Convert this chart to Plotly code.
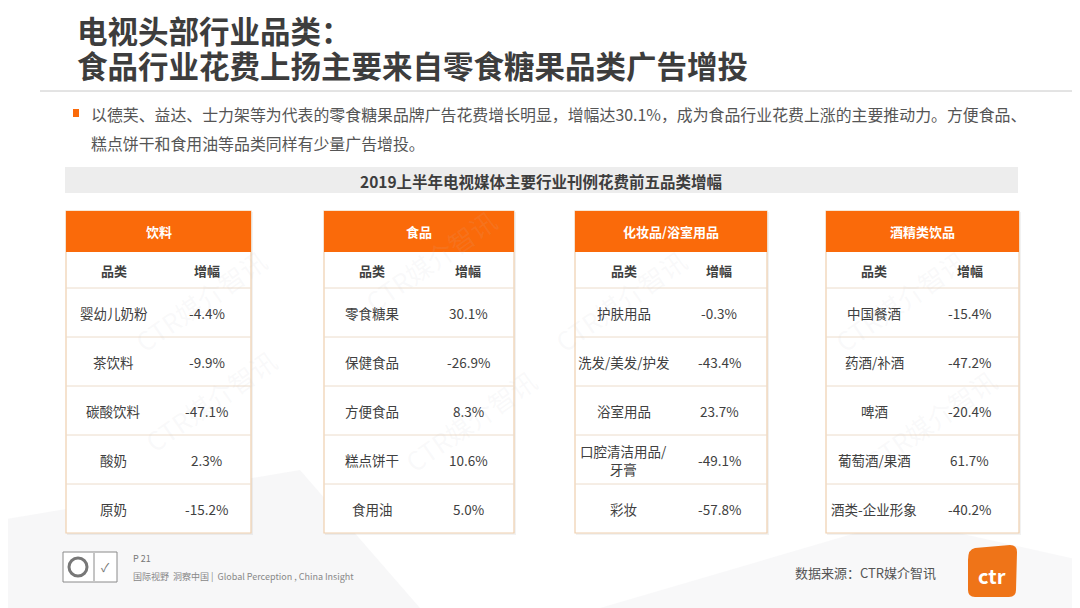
import plotly.graph_objects as go

# ---------------- data ----------------
title_lines = ["电视头部行业品类：", "食品行业花费上扬主要来自零食糖果品类广告增投"]
bullet_lines = [
    "以德芙、益达、士力架等为代表的零食糖果品牌广告花费增长明显，增幅达30.1%，成为食品行业花费上涨的主要推动力。方便食品、",
    "糕点饼干和食用油等品类同样有少量广告增投。",
]
band_title = "2019上半年电视媒体主要行业刊例花费前五品类增幅"
col_headers = ["品类", "增幅"]

groups = ["饮料", "食品", "化妆品/浴室用品", "酒精类饮品"]

cats_drinks = ["婴幼儿奶粉", "茶饮料", "碳酸饮料", "酸奶", "原奶"]
vals_drinks = [-4.4, -9.9, -47.1, 2.3, -15.2]

cats_food = ["零食糖果", "保健食品", "方便食品", "糕点饼干", "食用油"]
vals_food = [30.1, -26.9, 8.3, 10.6, 5.0]

cats_cosmetics = ["护肤用品", "洗发/美发/护发", "浴室用品", "口腔清洁用品/<br>牙膏", "彩妆"]
vals_cosmetics = [-0.3, -43.4, 23.7, -49.1, -57.8]

cats_alcohol = ["中国餐酒", "药酒/补酒", "啤酒", "葡萄酒/果酒", "酒类-企业形象"]
vals_alcohol = [-15.4, -47.2, -20.4, 61.7, -40.2]

source_text = "数据来源：CTR媒介智讯"
page_text = "P 21"
slogan_text = "国际视野  洞察中国 |  Global Perception , China Insight"

tables = [
    (groups[0], cats_drinks, vals_drinks),
    (groups[1], cats_food, vals_food),
    (groups[2], cats_cosmetics, vals_cosmetics),
    (groups[3], cats_alcohol, vals_alcohol),
]

# ---------------- layout constants ----------------
W, H = 1080, 608
OFF = 8  # default page body margin
FONT = "Noto Sans CJK SC"
ORANGE = "#fa6a0a"
BORDER = "#efcfae"
ROWLINE = "#ecdccb"
TXT = "#404040"

tx0 = [66, 324, 575, 826]
tx1 = [251, 514, 767, 1019]
c1f = [0.257, 0.255, 0.253, 0.249]
c2f = [0.76, 0.758, 0.75, 0.746]
head_top, head_bot, sub_bot, row_h = 211, 252, 288, 49

shapes = []
annos = []

def add_text(x, y, text, size, color=TXT, bold=False, xanchor="center", **kw):
    if bold:
        text = "<b>" + text + "</b>"
    annos.append(dict(x=x, y=y, xref="x", yref="y", text=text, showarrow=False,
                      xanchor=xanchor, yanchor="middle",
                      font=dict(family=FONT, size=size, color=color), **kw))

# faint background polygons
shapes.append(dict(type="path", path="M 0 520 L 300 470 L 420 608 L 0 608 Z",
                   fillcolor="rgba(230,230,232,0.3)", line=dict(width=0), layer="below"))
shapes.append(dict(type="path", path="M 600 608 L 900 520 L 1080 560 L 1080 608 Z",
                   fillcolor="rgba(232,232,235,0.3)", line=dict(width=0), layer="below"))

# watermarks (very faint)
for (wx, wy) in [(200, 300), (210, 400), (430, 260), (470, 420), (620, 300), (900, 300),
                 (930, 420)]:
    annos.append(dict(x=wx, y=wy, xref="x", yref="y", text="CTR媒介智讯", showarrow=False,
                      textangle=-35, font=dict(family=FONT, size=26, color="rgba(200,200,205,0.10)")))

# title
add_text(75, 30, title_lines[0], 30.5, color="#3d3d3d", bold=True, xanchor="left")
add_text(75, 65, title_lines[1], 30.5, color="#3d3d3d", bold=True, xanchor="left")
shapes.append(dict(type="line", x0=40, x1=1080, y0=91, y1=91, line=dict(color="#c8c8c8", width=1)))

# bullet
shapes.append(dict(type="rect", x0=73, x1=79, y0=109, y1=117, fillcolor=ORANGE, line=dict(width=0)))
add_text(89, 114, bullet_lines[0], 15.9, color="#555555", xanchor="left")
add_text(89, 143, bullet_lines[1], 15.9, color="#555555", xanchor="left")

# band
shapes.append(dict(type="rect", x0=65, x1=1018, y0=167, y1=193, fillcolor="#ededed", line=dict(width=0)))
add_text(541, 180.5, band_title, 15.5, color="#3d3d3d", bold=True)

# tables
for i, (grp, cats, vals) in enumerate(tables):
    x0, x1 = tx0[i], tx1[i]
    w = x1 - x0
    n = len(cats)
    bottom = sub_bot + n * row_h
    shapes.append(dict(type="rect", x0=x0 + 1, x1=x1 + 2, y0=head_top + 1, y1=bottom + 2,
                       fillcolor="rgba(0,0,0,0.05)", line=dict(width=0), layer="below"))
    shapes.append(dict(type="rect", x0=x0, x1=x1, y0=head_top, y1=bottom,
                       fillcolor="white", line=dict(color=BORDER, width=1.2)))
    shapes.append(dict(type="rect", x0=x0, x1=x1, y0=head_top, y1=head_bot,
                       fillcolor=ORANGE, line=dict(width=0)))
    add_text(x0 + w / 2, (head_top + head_bot) / 2, grp, 13, color="white", bold=True)
    cx1 = x0 + w * c1f[i]
    cx2 = x0 + w * c2f[i]
    add_text(cx1, (head_bot + sub_bot) / 2, col_headers[0], 13, bold=True)
    add_text(cx2, (head_bot + sub_bot) / 2, col_headers[1], 13, bold=True)
    shapes.append(dict(type="line", x0=x0, x1=x1, y0=sub_bot, y1=sub_bot,
                       line=dict(color=ROWLINE, width=1)))
    for r in range(n):
        yt = sub_bot + r * row_h
        yc = yt + row_h / 2
        if r < n - 1:
            shapes.append(dict(type="line", x0=x0, x1=x1, y0=yt + row_h, y1=yt + row_h,
                               line=dict(color=ROWLINE, width=1)))
        add_text(cx1, yc, cats[r], 13.5)
        add_text(cx2, yc, f"{vals[r]:.1f}%", 13.5)

# footer left logo
shapes.append(dict(type="rect", x0=63, x1=117, y0=552, y1=582, fillcolor="white",
                   line=dict(color="#8a8a8a", width=1)))
shapes.append(dict(type="line", x0=94, x1=94, y0=553, y1=581, line=dict(color="#8a8a8a", width=1)))
shapes.append(dict(type="circle", x0=69, x1=87, y0=558, y1=576, line=dict(color="#777", width=3)))
add_text(105, 566, "✓", 12, color="#777")
add_text(131, 558, page_text, 9, color="#777777", xanchor="left")
add_text(131, 576, slogan_text, 9, color="#888888", xanchor="left")

# footer right
add_text(793, 572, source_text, 13, color="#555555", xanchor="left")
shapes.append(dict(type="path",
                   path="M 975 548 L 1010 545 Q 1017 545 1017 552 L 1016 590 Q 1016 597 1009 597 L 975 597 Q 968 597 968 590 L 968 560 Q 968 549 975 548 Z",
                   fillcolor="#ef7418", line=dict(width=0)))
add_text(992, 575, "ctr", 20, color="white", bold=True)

fig = go.Figure()
fig.add_trace(go.Scatter(x=[OFF, W], y=[OFF, H], mode="markers", marker=dict(opacity=0),
                         hoverinfo="skip", showlegend=False))
fig.update_layout(
    width=W - OFF, height=H - OFF, margin=dict(l=0, r=0, t=0, b=0),
    paper_bgcolor="white", plot_bgcolor="white",
    xaxis=dict(range=[OFF, W], visible=False, fixedrange=True),
    yaxis=dict(range=[H, OFF], visible=False, fixedrange=True),
    shapes=shapes, annotations=annos, showlegend=False,
)
fig.write_html("out.html")
